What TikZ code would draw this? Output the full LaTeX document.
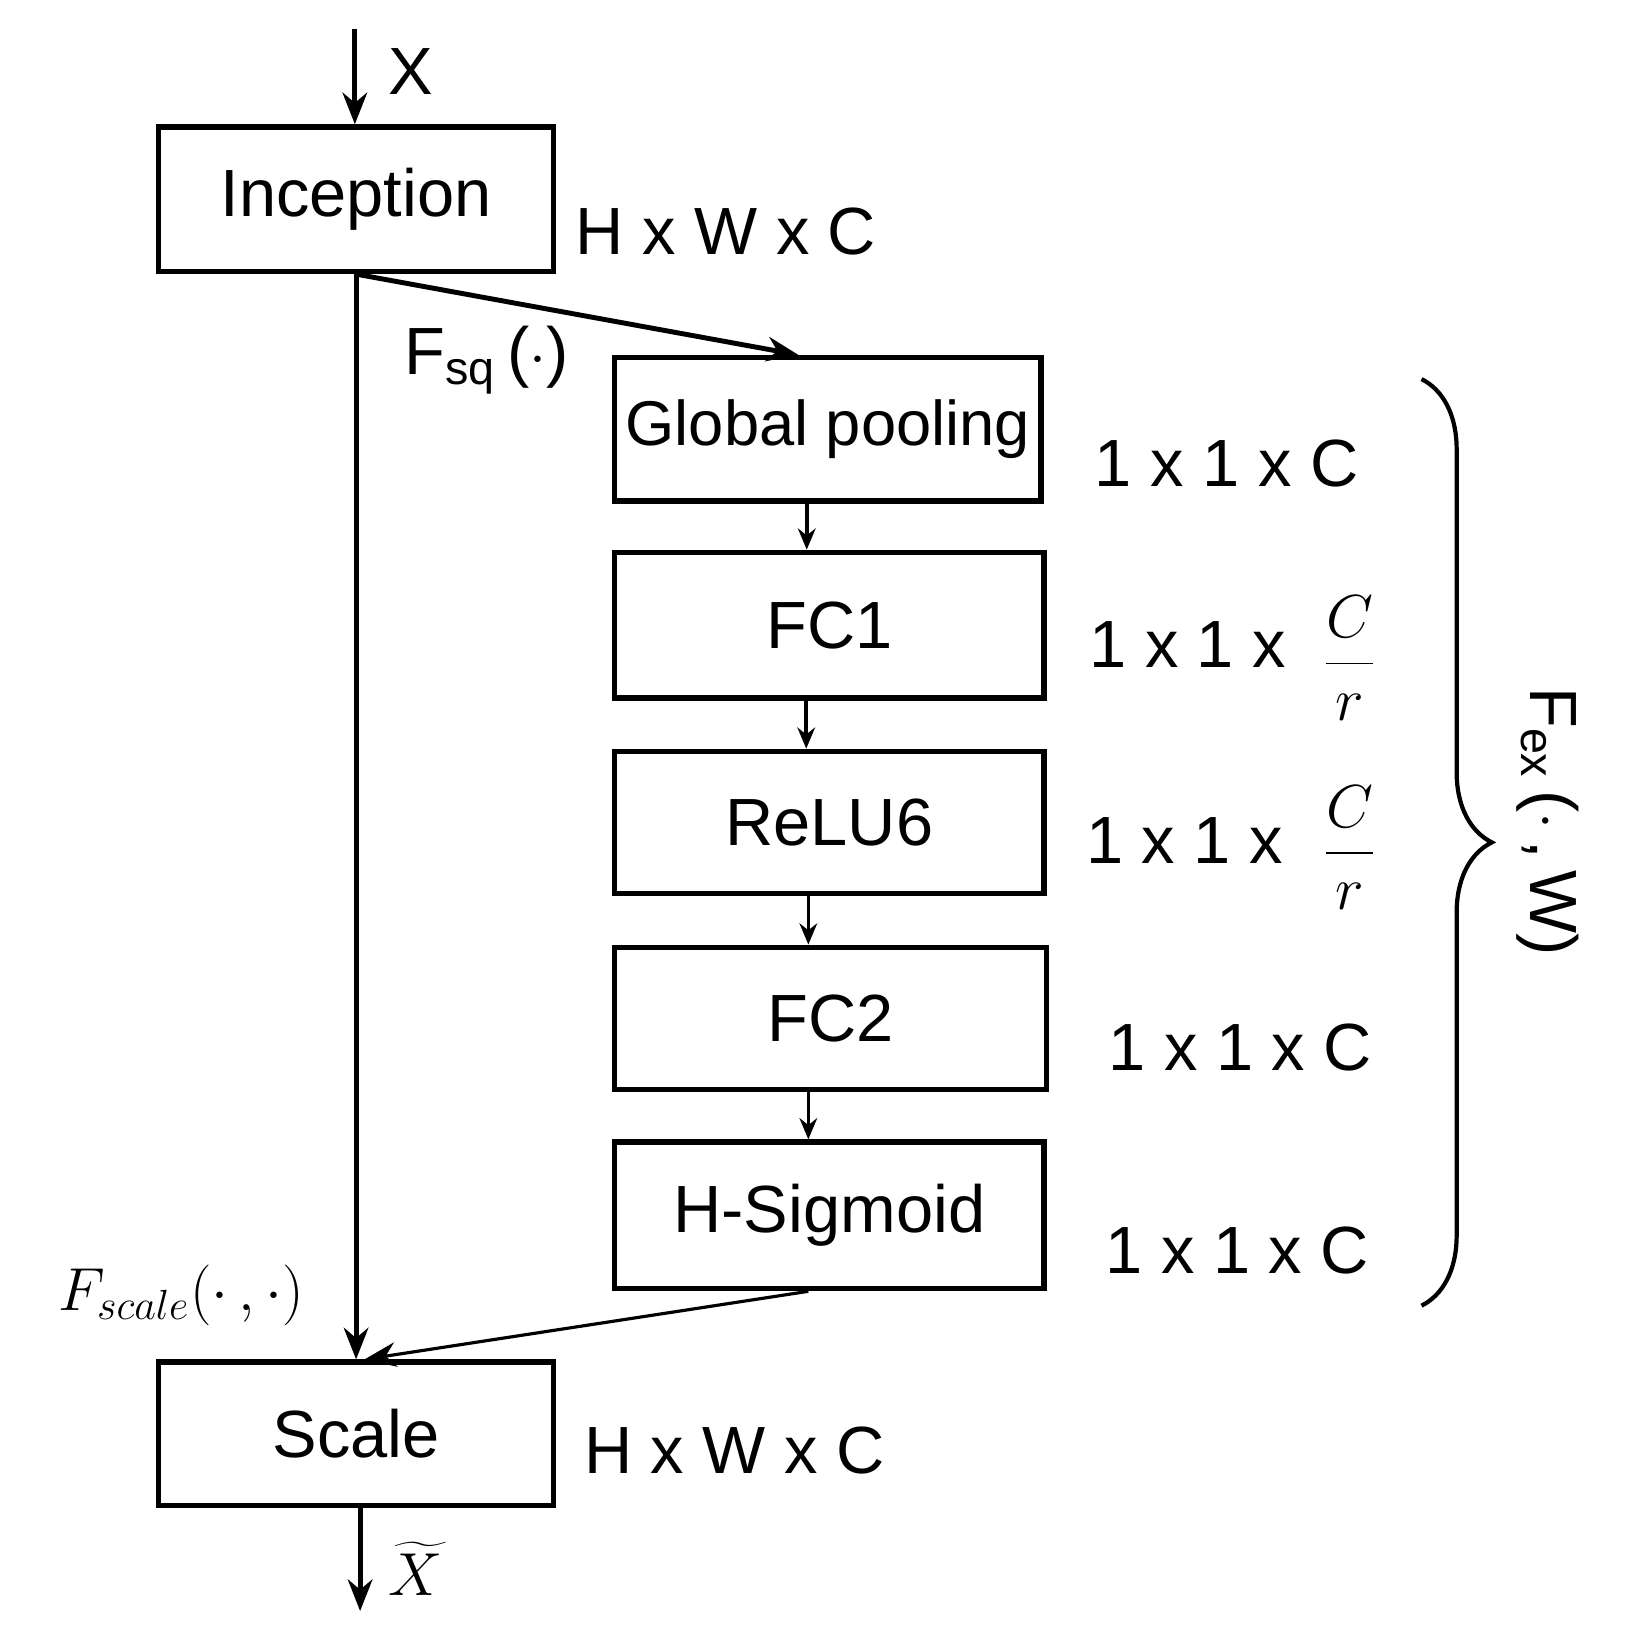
\documentclass[tikz,border=0pt]{standalone}
\usepackage{fontspec}
\setmainfont{Liberation Sans}
\usetikzlibrary{decorations.pathreplacing,arrows.meta}
\begin{document}
\begin{tikzpicture}[x=0.1053mm,y=-0.1053mm,
  blk/.style={draw, line width=1.6pt, anchor=north west, inner sep=0pt},
  lbl/.style={font=\fontsize{19}{22}\selectfont},
  frc/.style={font=\fontsize{19}{22}\selectfont, inner sep=0pt},
  arr/.style={-{Stealth[length=9pt,width=7pt]}, line width=1.4pt},
  sarr/.style={-{Stealth[length=6pt,width=5pt]}, line width=1pt}]
\useasboundingbox (0,0) rectangle (1547,1567);
\node[blk, minimum width=375*0.1053mm, minimum height=137*0.1053mm, lbl] (inc) at (148,118) {Inception};
\node[blk, minimum width=405*0.1053mm, minimum height=136*0.1053mm, font=\fontsize{18}{22}\selectfont] (gp) at (581,337) {Global pooling};
\node[blk, minimum width=408*0.1053mm, minimum height=138*0.1053mm, lbl] (fc1) at (581,522) {FC1};
\node[blk, minimum width=408*0.1053mm, minimum height=135*0.1053mm, lbl] (relu) at (581,711) {ReLU6};
\node[blk, minimum width=410*0.1053mm, minimum height=135*0.1053mm, lbl] (fc2) at (581,897) {FC2};
\node[blk, minimum width=408*0.1053mm, minimum height=139*0.1053mm, lbl] (hs) at (581,1082) {H-Sigmoid};
\node[blk, minimum width=375*0.1053mm, minimum height=136*0.1053mm, lbl] (sc) at (148,1291) {Scale};
\coordinate (xin) at (337,28);
\coordinate (xout) at (342,1530);
\node[lbl] (xl) at (390,68) {X};
\node[lbl, anchor=west] (hwc1) at (535,220) {H x W x C};
\node[lbl, anchor=west] (hwc2) at (543,1378) {H x W x C};
\node[lbl] (s1) at (1165,440) {1 x 1 x C};
\node[lbl] (s2) at (1128,612) {1 x 1 x};
\node[frc] (f2) at (1282,625) {$\displaystyle\frac{C}{r}$};
\node[lbl] (s3) at (1125,798) {1 x 1 x};
\node[frc] (f3) at (1282,805) {$\displaystyle\frac{C}{r}$};
\node[lbl] (s4) at (1178,995) {1 x 1 x C};
\node[lbl] (s5) at (1175,1188) {1 x 1 x C};
\node[lbl] (fsq) at (462,342) {F$_{\mathrm{sq}}$\,($\cdot$)};
\node[lbl, font=\fontsize{18}{22}\selectfont] (fsc) at (172,1230) {$F_{scale}(\cdot\,,\cdot)$};
\node[lbl, inner sep=0pt] (xt) at (395,1490) {$\widetilde{X}$};
\node[lbl, rotate=-90] (fex) at (1470,780) {F$_{\mathrm{ex}}$\,($\cdot$\,,\,W)};
\draw[arr] (xin) -- (inc.north -| xin);
\draw[arr] (inc.south) -- (sc.north);
\draw[arr] (inc.south) -- ([xshift=-28*0.1053mm]gp.north);
\draw[sarr] ([xshift=-20*0.1053mm]gp.south) -- ([xshift=-20*0.1053mm]gp.south |- fc1.north);
\draw[sarr] ([xshift=-22*0.1053mm]fc1.south) -- ([xshift=-22*0.1053mm]fc1.south |- relu.north);
\draw[sarr] ([xshift=-20*0.1053mm]relu.south) -- ([xshift=-20*0.1053mm]relu.south |- fc2.north);
\draw[sarr] ([xshift=-21*0.1053mm]fc2.south) -- ([xshift=-21*0.1053mm]fc2.south |- hs.north);
\draw[arr, line width=0.9pt] ([xshift=-20*0.1053mm]hs.south) -- ([xshift=8*0.1053mm]sc.north);
\draw[arr] (sc.south -| xout) -- (xout);
\draw[line width=1.2pt, decorate, decoration={brace, amplitude=20pt}] (1350,360) -- (1350,1240);
\end{tikzpicture}
\end{document}
